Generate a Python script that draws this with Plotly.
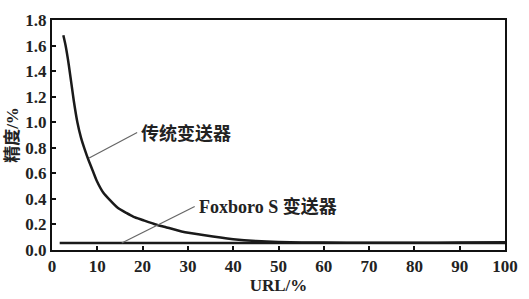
import plotly.graph_objects as go

# Traditional transmitter accuracy vs URL
trad_x = [2.5, 3.0, 3.7, 4.8, 5.6, 6.4, 7.2, 8.1, 9.0, 9.9, 11.3, 12.8, 14.5, 16.4, 18.0, 20.0, 22.9, 25.0, 28.6, 33.7, 40.0, 45.0, 50.0, 60.0, 70.0, 80.0, 90.0, 100.0]
trad_y = [1.68, 1.60, 1.45, 1.17, 1.00, 0.88, 0.79, 0.70, 0.62, 0.54, 0.45, 0.39, 0.33, 0.29, 0.26, 0.235, 0.20, 0.18, 0.145, 0.115, 0.085, 0.07, 0.062, 0.058, 0.056, 0.056, 0.058, 0.06]

# Foxboro S transmitter accuracy (flat)
fox_x = [1.7, 100.0]
fox_y = [0.055, 0.055]

x_ticks = [0, 10, 20, 30, 40, 50, 60, 70, 80, 90, 100]
y_ticks = [0.0, 0.2, 0.4, 0.6, 0.8, 1.0, 1.2, 1.4, 1.6, 1.8]

label_trad = "传统变送器"
label_fox = "Foxboro S 变送器"
x_title = "URL/%"
y_title = "精度/%"

serif = "'Liberation Serif', 'Times New Roman', 'Noto Sans CJK SC', serif"
cjk = "'Noto Sans CJK SC'"

fig = go.Figure()
fig.add_trace(go.Scatter(x=fox_x, y=fox_y, mode="lines",
                         line=dict(color="#1a1a1a", width=2.5), showlegend=False))
fig.add_trace(go.Scatter(x=trad_x, y=trad_y, mode="lines", line_shape="spline",
                         line=dict(color="#1a1a1a", width=2.5, smoothing=0.6), showlegend=False))

# leader lines
fig.add_shape(type="line", x0=8.2, y0=0.72, x1=18.8, y1=0.92,
              line=dict(color="#666666", width=1.2))
fig.add_shape(type="line", x0=15.4, y0=0.055, x1=31.5, y1=0.34,
              line=dict(color="#666666", width=1.2))

fig.add_annotation(x=19.3, y=0.92, text="<b>" + label_trad + "</b>", showarrow=False, xanchor="left",
                   font=dict(family=cjk, size=18, color="#222222"))
fig.add_annotation(x=32.0, y=0.34, text="<b>" + label_fox + "</b>", showarrow=False, xanchor="left",
                   font=dict(family=serif, size=18, color="#222222"))

axis_common = dict(showgrid=False, zeroline=False, showline=True, linecolor="#111111",
                   linewidth=2, mirror=True, ticks="inside", ticklen=4, tickwidth=1.5,
                   tickcolor="#111111",
                   tickfont=dict(family=serif, size=17, color="#222222"))

fig.update_xaxes(range=[0, 100], tickvals=x_ticks, ticktext=[f"<b>{v}</b>" for v in x_ticks],
                 title=dict(text="<b>" + x_title + "</b>", standoff=0,
                            font=dict(family=serif, size=17, color="#222222")),
                 **axis_common)
fig.update_yaxes(range=[0, 1.8], tickvals=y_ticks, ticktext=[f"<b>{v:.1f}</b>" for v in y_ticks],
                 title=dict(text="<b>" + y_title + "</b>", standoff=2,
                            font=dict(family=serif, size=17, color="#222222")),
                 **axis_common)

fig.update_layout(width=529, height=299, margin=dict(l=51, r=16, t=11, b=38),
                  plot_bgcolor="white", paper_bgcolor="white")

fig.write_html("out.html")
